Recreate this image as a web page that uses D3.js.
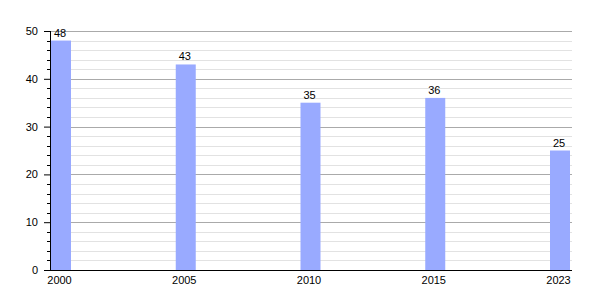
<!DOCTYPE html>
<html>
<head>
<meta charset="utf-8">
<script src="https://cdn.jsdelivr.net/npm/d3@7"></script>
<style>
  body { margin: 0; background: #fff; }
  text { font-family: "Liberation Sans", Arial, sans-serif; }
</style>
</head>
<body>
<script>
// chart data
const years = ["2000", "2005", "2010", "2015", "2023"];
const values = [48, 43, 35, 36, 25];
const yTicks = [0, 10, 20, 30, 40, 50];

const width = 600, height = 300;
const margin = {left: 50, right: 28, top: 31, bottom: 30};

const svg = d3.select("body").append("svg")
    .attr("width", width)
    .attr("height", height);

const x = d3.scalePoint()
    .domain(years)
    .range([61, 560]);

const y = d3.scaleLinear()
    .domain([0, 50])
    .range([height - margin.bottom, margin.top]);

const barW = 20;

// minor grid, every 2 units
const minor = d3.range(0, 51, 2).filter(d => d % 10 !== 0);
svg.append("g").selectAll("line")
    .data(minor)
    .enter().append("line")
    .attr("x1", margin.left).attr("x2", width - margin.right)
    .attr("y1", d => Math.round(y(d)) + 0.5).attr("y2", d => Math.round(y(d)) + 0.5)
    .attr("stroke", "#e2e2e2");

// major grid
svg.append("g").selectAll("line")
    .data(yTicks.filter(d => d > 0))
    .enter().append("line")
    .attr("x1", margin.left).attr("x2", width - margin.right)
    .attr("y1", d => Math.round(y(d)) + 0.5).attr("y2", d => Math.round(y(d)) + 0.5)
    .attr("stroke", "#aaaaaa");

// bars
svg.append("g").selectAll("rect")
    .data(values)
    .enter().append("rect")
    .attr("x", (d, i) => x(years[i]) - barW / 2)
    .attr("width", barW)
    .attr("y", d => y(d))
    .attr("height", d => y(0) - y(d))
    .attr("fill", "#99aaff");

// value labels
svg.append("g").selectAll("text")
    .data(values)
    .enter().append("text")
    .attr("x", (d, i) => x(years[i]) - 1)
    .attr("y", d => y(d) - 4)
    .attr("text-anchor", "middle")
    .attr("font-size", 11)
    .text(d => d);

// y axis with minor ticks
const yAxis = svg.append("g").attr("transform", `translate(${margin.left},0)`);
yAxis.call(d3.axisLeft(y).tickValues(yTicks).tickSize(6).tickPadding(6))
    .call(g => g.select(".domain").remove())
    .selectAll("text").attr("font-size", 11).attr("font-family", "Liberation Sans, Arial, sans-serif");
yAxis.selectAll(".minor")
    .data(minor)
    .enter().append("line")
    .attr("class", "minor")
    .attr("x1", -3).attr("x2", 0)
    .attr("y1", d => Math.round(y(d)) + 0.5).attr("y2", d => Math.round(y(d)) + 0.5)
    .attr("stroke", "#000");
yAxis.append("line")
    .attr("x1", 0.5).attr("x2", 0.5)
    .attr("y1", y(50)).attr("y2", y(0))
    .attr("stroke", "#000");

// x axis
const xAxis = svg.append("g").attr("transform", `translate(0,${y(0)})`);
xAxis.call(d3.axisBottom(x).tickSize(0).tickPadding(6))
    .call(g => g.select(".domain").remove())
    .selectAll("text").attr("font-size", 11).attr("dx", -2)
    .attr("font-family", "Liberation Sans, Arial, sans-serif");
xAxis.append("line")
    .attr("x1", margin.left - 6).attr("x2", width - margin.right)
    .attr("y1", 0.5).attr("y2", 0.5)
    .attr("stroke", "#000");
</script>
</body>
</html>
